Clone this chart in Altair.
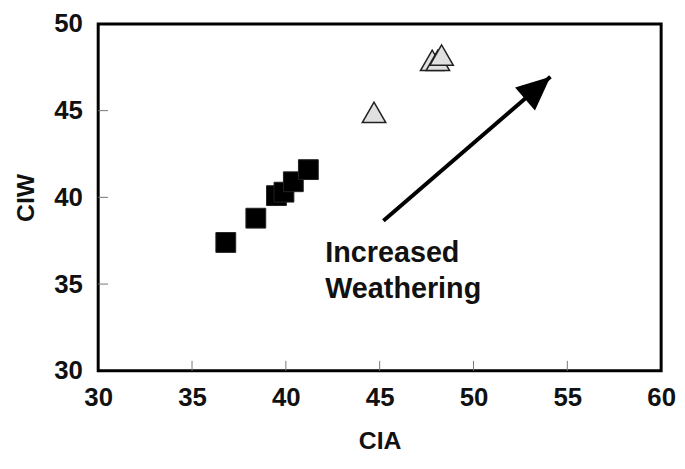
import altair as alt
import pandas as pd

# Data
sq_cia = [36.8, 38.4, 39.5, 39.9, 40.4, 41.2]
sq_ciw = [37.4, 38.8, 40.1, 40.3, 40.9, 41.6]
tri_cia = [44.7, 47.8, 48.1, 48.3]
tri_ciw = [44.9, 47.9, 47.9, 48.2]
arrow_start = [45.2, 38.65]
arrow_end = [54.1, 46.95]
label_lines = ["Increased", "Weathering"]
label_x = [42.1, 42.1]
label_y = [36.8, 34.7]
ticks = [35, 40, 45, 50, 55]
yticks = [35, 40, 45]

FONT = "Liberation Sans, Arial, sans-serif"
W, H = 568, 350

xs = alt.Scale(domain=[30, 60], nice=False)
ys = alt.Scale(domain=[30, 50], nice=False)

sq = pd.DataFrame({"CIA": sq_cia, "CIW": sq_ciw})
tri = pd.DataFrame({"CIA": tri_cia, "CIW": tri_ciw})
arr = pd.DataFrame({"x": [arrow_start[0]], "y": [arrow_start[1]],
                    "x2": [arrow_end[0]], "y2": [arrow_end[1]]})
head = pd.DataFrame({"x": [arrow_end[0]], "y": [arrow_end[1]]})
lab = pd.DataFrame({"t": label_lines, "x": label_x, "y": label_y})
xt = pd.DataFrame({"v": ticks})
yt = pd.DataFrame({"v": yticks})

base_x = alt.X("CIA:Q", scale=xs, title="CIA",
               axis=alt.Axis(values=[30, 35, 40, 45, 50, 55, 60], ticks=False,
                             domain=False, grid=False, labelPadding=14,
                             labelFlush=False, titlePadding=18))
base_y = alt.Y("CIW:Q", scale=ys, title="CIW",
               axis=alt.Axis(values=[30, 35, 40, 45, 50], ticks=False,
                             domain=False, grid=False, labelPadding=16,
                             labelFlush=False, titlePadding=15))

squares = alt.Chart(sq).mark_point(shape="square", filled=True, size=400,
                                   color="#000000", stroke="#222222",
                                   strokeWidth=1, opacity=1).encode(x=base_x, y=base_y)

triangles = alt.Chart(tri).mark_point(shape="triangle-up", filled=True, size=560,
                                      fill="#e0e0e0", stroke="#222222",
                                      strokeWidth=1.5, opacity=1).encode(
    x=alt.X("CIA:Q", scale=xs), y=alt.Y("CIW:Q", scale=ys))

line = alt.Chart(arr).mark_rule(strokeWidth=4, color="#000000").encode(
    x=alt.X("x:Q", scale=xs), y=alt.Y("y:Q", scale=ys), x2="x2:Q", y2="y2:Q")

arrowhead = alt.Chart(head).mark_point(
    shape="M0,0L0.45,1L-0.45,1Z", filled=True, size=4624, color="#000000",
    angle=49, opacity=1).encode(x=alt.X("x:Q", scale=xs), y=alt.Y("y:Q", scale=ys))

text = alt.Chart(lab).mark_text(align="left", baseline="middle", font=FONT,
                                fontSize=29, fontWeight="bold", color="#111111").encode(
    x=alt.X("x:Q", scale=xs), y=alt.Y("y:Q", scale=ys), text="t:N")

xtick = alt.Chart(xt).mark_rule(color="#777777", strokeWidth=1).encode(
    x=alt.X("v:Q", scale=xs), y=alt.value(H), y2=alt.value(H - 10))
ytick = alt.Chart(yt).mark_rule(color="#777777", strokeWidth=1).encode(
    y=alt.Y("v:Q", scale=ys), x=alt.value(0), x2=alt.value(10))

chart = alt.layer(xtick, ytick, squares, triangles, line, arrowhead, text).properties(
    width=W, height=H,
    autosize=alt.AutoSizeParams(type="none"),
    padding={"left": 91, "top": 14, "right": 16, "bottom": 97},
).configure(background="white").configure_view(
    stroke="#000000", strokeWidth=3
).configure_axis(
    labelFont=FONT, labelFontSize=26, labelFontWeight="bold", labelColor="#111111",
    titleFont=FONT, titleFontSize=25, titleFontWeight="bold", titleColor="#111111",
)

chart.save("out.html", embed_options={"renderer": "svg", "actions": False})
